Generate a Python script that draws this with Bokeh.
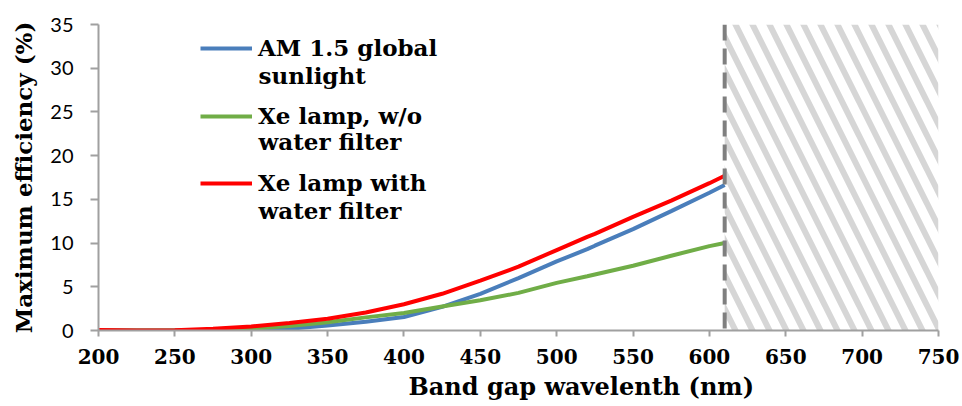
from bokeh.plotting import figure
from bokeh.models import (Legend, LegendItem, Label, Span, BoxAnnotation, Title,
                          FixedTicker)
from bokeh.embed import file_html
from bokeh.resources import INLINE

# ---- data ----
wavelength = [200, 225, 250, 275, 300, 325, 350, 375, 400, 425, 450, 475,
              500, 520, 525, 550, 575, 600, 610]
am15 = [0.0, 0.0, 0.0, 0.01, 0.05, 0.2, 0.57, 1.0, 1.55, 2.7, 4.2, 6.0,
        7.9, 9.3, 9.7, 11.6, 13.65, 15.75, 16.65]
xe_no_filter = [0.0, 0.0, 0.0, 0.07, 0.2, 0.5, 0.95, 1.5, 2.0, 2.75, 3.45, 4.3,
                5.45, 6.2, 6.4, 7.4, 8.55, 9.65, 10.0]
xe_filter = [0.05, 0.0, 0.02, 0.2, 0.46, 0.85, 1.34, 2.05, 3.0, 4.2, 5.7, 7.3,
             9.2, 10.7, 11.05, 13.0, 14.85, 16.85, 17.7]
cutoff = 610
x_ticks = [200, 250, 300, 350, 400, 450, 500, 550, 600, 650, 700, 750]
y_ticks = [0, 5, 10, 15, 20, 25, 30, 35]
labels_first = ["AM 1.5 global", "Xe lamp, w/o", "Xe lamp with"]
labels_second = ["sunlight", "water filter", "water filter"]
colors = ["#4a7ebb", "#70ad47", "#ff0000"]

SERIF = "DejaVu Serif"

p = figure(width=962, height=406, output_backend="svg", toolbar_location=None,
           x_range=(200, 750), y_range=(0, 35),
           min_border_left=98, min_border_right=24, min_border_top=24,
           min_border_bottom=76)
p.outline_line_color = None
p.xgrid.visible = False
p.ygrid.visible = False

# shaded (hatched) region beyond cutoff
box = BoxAnnotation(left=cutoff, right=750, bottom=0, top=None,
                    fill_color="white", fill_alpha=1.0, line_color=None,
                    hatch_pattern="\\", hatch_color="#d6d6d6",
                    hatch_weight=6, hatch_scale=34, level="underlay")
p.add_layout(box)

renderers = []
for ys, c in zip([am15, xe_no_filter, xe_filter], colors):
    r = p.line(wavelength, ys, line_color=c, line_width=4)
    renderers.append(r)

span = Span(location=cutoff, dimension="height", line_color="#7f7f7f",
            line_width=4, line_dash="16 8")
p.add_layout(span)

# axes
for ax in (p.xaxis[0], p.yaxis[0]):
    ax.axis_line_color = "#a0a0a0"
    ax.axis_line_width = 2
    ax.major_tick_line_color = "#a0a0a0"
    ax.major_tick_line_width = 2
    ax.minor_tick_line_color = None
    ax.major_tick_in = 0
    ax.major_label_text_color = "black"

p.xaxis.ticker = FixedTicker(ticks=x_ticks)
p.yaxis.ticker = FixedTicker(ticks=y_ticks)
p.xaxis.major_tick_out = 6
p.yaxis.major_tick_out = 8
p.xaxis.major_label_text_font = SERIF
p.xaxis.major_label_text_font_style = "bold"
p.xaxis.major_label_text_font_size = "20px"
p.xaxis.major_label_standoff = 12
p.yaxis.major_label_text_font = "Lato"
p.yaxis.major_label_text_font_size = "20px"
p.yaxis.major_label_standoff = 17

p.yaxis.axis_label = "Maximum efficiency (%)"
p.yaxis.axis_label_text_font = SERIF
p.yaxis.axis_label_text_font_style = "bold"
p.yaxis.axis_label_text_font_size = "23px"
p.yaxis.axis_label_text_color = "black"
p.yaxis.axis_label_standoff = 10

xt = Title(text="Band gap wavelenth (nm)", align="left", offset=310,
           text_font=SERIF, text_font_style="bold", text_font_size="24px",
           text_color="black", standoff=7)
p.add_layout(xt, "below")

# legend: one legend per series, second line as label
leg_y = [269, 201, 134]
second_y = [255, 189, 120]
for r, lab, ly in zip(renderers, labels_first, leg_y):
    lg = Legend(items=[LegendItem(label=lab, renderers=[r])], location=(102, ly),
                padding=0, margin=0, spacing=0, glyph_width=52, glyph_height=26,
                label_height=26, label_standoff=6, border_line_color=None,
                background_fill_alpha=0, label_text_font=SERIF,
                label_text_font_style="bold", label_text_font_size="23px",
                label_text_color="black")
    p.add_layout(lg)

for lab, sy in zip(labels_second, second_y):
    p.add_layout(Label(x=160, y=sy, x_units="screen", y_units="screen", text=lab,
                       text_font=SERIF, text_font_style="bold",
                       text_font_size="23px", text_color="black",
                       text_baseline="alphabetic"))

open("out.html", "w").write(file_html(p, INLINE))
